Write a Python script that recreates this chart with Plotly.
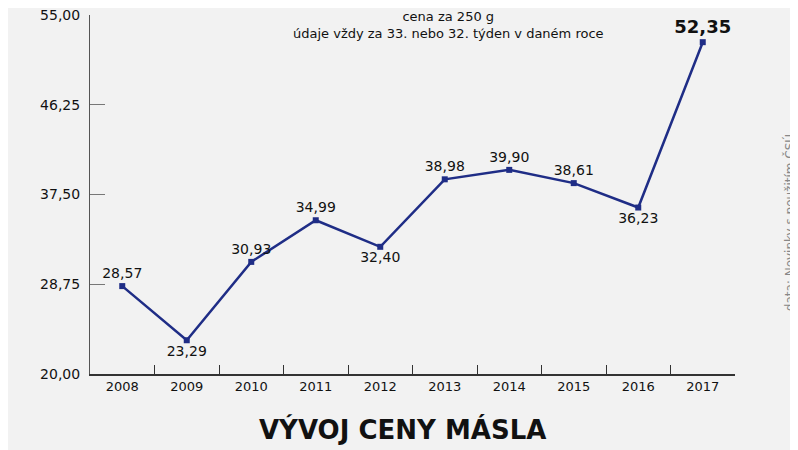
import plotly.graph_objects as go

years = ["2008", "2009", "2010", "2011", "2012", "2013", "2014", "2015", "2016", "2017"]
prices = [28.57, 23.29, 30.93, 34.99, 32.40, 38.98, 39.90, 38.61, 36.23, 52.35]
label_pos = ["top center", "bottom center", "top center", "top center", "bottom center",
             "top center", "top center", "top center", "bottom center", "top center"]
y_ticks = [20.0, 28.75, 37.5, 46.25, 55.0]

def fmt(v):
    return f"{v:.2f}".replace(".", ",")

labels = [fmt(v) for v in prices]
labels[-1] = "<b>" + labels[-1] + "</b>"
sizes = [14] * len(prices)
sizes[-1] = 18

font = "DejaVu Sans"
navy = "#1f2d86"

fig = go.Figure()
fig.add_trace(go.Scatter(
    x=years, y=prices, mode="lines+markers+text",
    line=dict(color=navy, width=2.5),
    marker=dict(symbol="square", size=6, color=navy),
    text=labels, textposition=label_pos,
    textfont=dict(family=font, size=sizes, color="#111111"),
    cliponaxis=False, hoverinfo="skip",
))

fig.update_layout(
    width=790, height=442,
    margin=dict(l=82, r=63, t=7, b=76),
    paper_bgcolor="#f2f2f2", plot_bgcolor="rgba(0,0,0,0)",
    showlegend=False,
    font=dict(family=font, size=13, color="#111111"),
    xaxis=dict(
        type="category", range=[-0.5, 9.5], tickson="boundaries",
        ticks="inside", ticklen=9, tickcolor="#333333", tickwidth=1,
        showline=True, linecolor="#333333", linewidth=1.5,
        showgrid=False, zeroline=False, fixedrange=True, automargin=False,
        tickfont=dict(family=font, size=13, color="#111111"),
    ),
    yaxis=dict(
        range=[20, 55.0001], tickvals=y_ticks, ticktext=[fmt(v) for v in y_ticks],
        ticks="inside", ticklen=15, tickcolor="#777777", tickwidth=1,
        showline=True, linecolor="#555555", linewidth=1,
        showgrid=False, zeroline=False, fixedrange=True, automargin=False,
        ticklabeloverflow="allow", ticklabelstandoff=6,
        tickfont=dict(family=font, size=14, color="#111111"),
    ),
    annotations=[
        dict(text="cena za 250 g<br>údaje vždy za 33. nebo 32. týden v daném roce",
             xref="paper", yref="paper", x=0.556, y=1.0, yshift=8, yanchor="top",
             xanchor="center", showarrow=False, align="center",
             font=dict(family=font, size=13, color="#111111")),
        dict(text="<b>VÝVOJ CENY MÁSLA</b>", xref="paper", yref="paper",
             x=0.485, y=0, yshift=-38, yanchor="top", xanchor="center", showarrow=False,
             font=dict(family=font, size=26, color="#111111")),
        dict(text="data: Novinky s použitím ČSÚ", xref="paper", yref="paper",
             x=1.0, xshift=54, y=0.42, xanchor="center", yanchor="middle",
             textangle=-90, showarrow=False,
             font=dict(family=font, size=12, color="#888888")),
    ],
)

fig.write_html("out.html")
